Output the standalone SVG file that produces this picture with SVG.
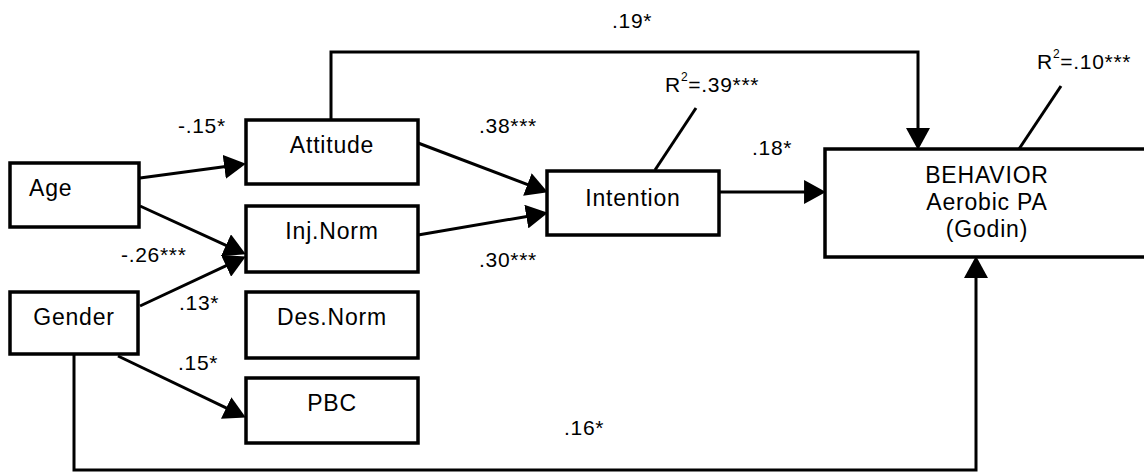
<svg xmlns="http://www.w3.org/2000/svg" width="1144" height="472" viewBox="0 0 1144 472">
<defs>
<style>
.box{fill:#fff;stroke:#000;stroke-width:3.5}
.node{font-family:"Liberation Sans",Arial,sans-serif;font-size:23px;letter-spacing:0.8px;fill:#000;text-anchor:middle}
.lbl{font-family:"Liberation Sans",Arial,sans-serif;font-size:21px;letter-spacing:0.7px;fill:#000}
.ln{fill:none;stroke:#000;stroke-width:3}
.arr{fill:none;stroke:#000;stroke-width:3;marker-end:url(#ah)}
</style>
<marker id="ah" markerUnits="userSpaceOnUse" markerWidth="22" markerHeight="24" refX="10" refY="11" orient="auto" viewBox="0 0 20 22">
<path d="M0,0 L20,11 L0,22 z" fill="#000"/>
</marker>
</defs>
<rect width="1144" height="472" fill="#fff"/>
<g id="connectors">
<path class="arr" d="M140,178 L235.1,165.3"/>
<path class="arr" d="M140,206 L235.9,249.8"/>
<path class="arr" d="M140,306 L235.9,261.2"/>
<path class="arr" d="M118,356 L236,412.7"/>
<path class="arr" d="M418,143 L537.6,188.4"/>
<path class="arr" d="M418,235 L537.1,214.7"/>
<path class="arr" d="M719,192 L815,192"/>
<path class="arr" d="M331,119 V52 H918 V139"/>
<path class="arr" d="M74,355 V470 H976 V267"/>
<path class="ln" d="M655,170 L696,108"/>
<path class="ln" d="M1019,149 L1061,86"/>
</g>
<g id="age"><rect class="box" x="10" y="163" width="129" height="64"/><text class="node" x="29" y="196" style="text-anchor:start">Age</text></g>
<g id="gender"><rect class="box" x="10" y="292" width="128" height="62"/><text class="node" x="74" y="325">Gender</text></g>
<g id="attitude"><rect class="box" x="246" y="120" width="172" height="64"/><text class="node" x="332" y="153">Attitude</text></g>
<g id="injnorm"><rect class="box" x="246" y="206" width="172" height="66"/><text class="node" x="332" y="239">Inj.Norm</text></g>
<g id="desnorm"><rect class="box" x="246" y="292" width="172" height="66"/><text class="node" x="332" y="325">Des.Norm</text></g>
<g id="pbc"><rect class="box" x="246" y="378" width="172" height="65"/><text class="node" x="332" y="411">PBC</text></g>
<g id="intention"><rect class="box" x="547" y="171" width="172" height="64"/><text class="node" x="633" y="206">Intention</text></g>
<g id="behavior"><rect class="box" x="825" y="149" width="323" height="108"/>
<text class="node" x="987" y="183">BEHAVIOR</text>
<text class="node" x="987" y="210">Aerobic PA</text>
<text class="node" x="987" y="237">(Godin)</text></g>
<g id="labels">
<text class="lbl" x="178" y="133">-.15*</text>
<text class="lbl" x="121" y="262">-.26***</text>
<text class="lbl" x="179" y="310">.13*</text>
<text class="lbl" x="178" y="370">.15*</text>
<text class="lbl" x="479" y="133">.38***</text>
<text class="lbl" x="479" y="267">.30***</text>
<text class="lbl" x="752" y="155">.18*</text>
<text class="lbl" x="612" y="28">.19*</text>
<text class="lbl" x="564" y="435">.16*</text>
<text class="lbl" x="665" y="92">R<tspan font-size="12" dy="-11">2</tspan><tspan dy="11">=.39***</tspan></text>
<text class="lbl" x="1037" y="69">R<tspan font-size="12" dy="-11">2</tspan><tspan dy="11">=.10***</tspan></text>
</g>
</svg>
